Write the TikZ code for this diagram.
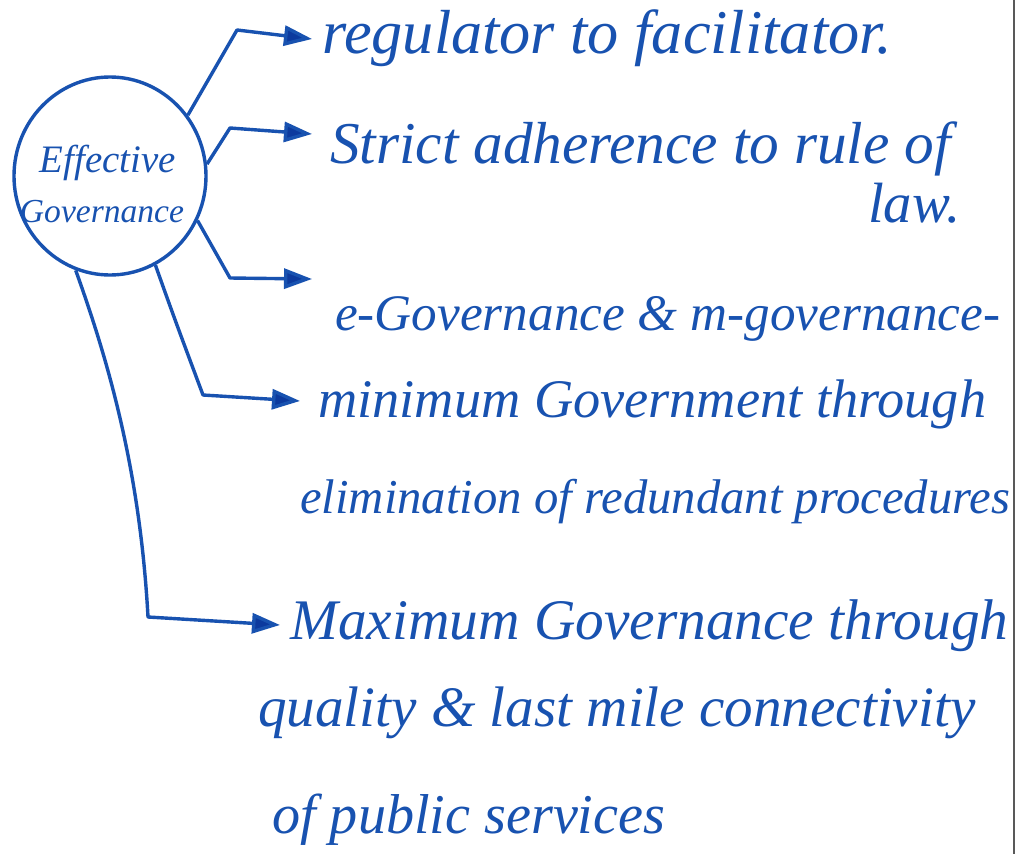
\documentclass[tikz,border=0pt]{standalone}
\usepackage{fontspec}
\setmainfont{Liberation Serif}
\usepackage{graphicx}
\usetikzlibrary{arrows.meta,shapes.geometric}
\definecolor{ink}{RGB}{24,82,176}
\definecolor{inkdark}{RGB}{12,58,158}
\newcommand{\fitw}[2]{\resizebox{#1pt}{!}{\itshape #2}}
\tikzset{
  conn/.style={draw=ink, line width=3.4pt, line join=round, -{Triangle[length=28pt,width=20pt,fill=inkdark]}},
  hand/.style={text=ink, inner sep=0pt, anchor=base west},
  hub/.style={ellipse, draw=ink, line width=3.4pt, minimum width=192pt, minimum height=198pt, inner sep=0pt, align=center}
}
\begin{document}
\begin{tikzpicture}[x=1pt,y=-1pt]
\useasboundingbox (0,0) rectangle (1019,854);
\fill[white] (0,0) rectangle (1019,854);
\draw[black!65, line width=1.5pt] (1014,0) -- (1014,854);

\node[hub] (eg) at (110,176) {};
\node[hand, anchor=base] (eff) at (108,172) {\fitw{136}{Effective}};
\node[hand, anchor=base] (gov) at (102,222) {\fitw{164}{Governance}};

\coordinate (c1) at (237,30);  \coordinate (t1) at (312,39);
\coordinate (c2) at (230,128); \coordinate (t2) at (312,134);
\coordinate (c3) at (230,278); \coordinate (t3) at (312,279);
\coordinate (c4) at (203,395); \coordinate (t4) at (300,401);
\coordinate (c5) at (148,617); \coordinate (t5) at (280,625);

\draw[conn] (eg.38) -- (c1) -- (t1);
\draw[conn] (eg.7) -- (c2) -- (t2);
\draw[conn] (eg.-27) -- (c3) -- (t3);
\draw[conn] (eg.-63) .. controls (175,320) .. (c4) -- (t4);
\draw[conn] (eg.-110) .. controls (108,360) and (140,470) .. (c5) -- (t5);

\node[hand] (l1) at (322,53) {\fitw{570}{regulator to facilitator.}};
\node[hand] (l2a) at (330,163) {\fitw{620}{Strict adherence to rule of}};
\node[hand] (l2b) at (868,222) {\fitw{92}{law.}};
\node[hand] (l3) at (335,330) {\fitw{665}{e-Governance \& m-governance-}};
\node[hand] (l4a) at (318,417) {\fitw{668}{minimum Government through}};
\node[hand] (l4b) at (300,513) {\fitw{710}{elimination of redundant procedures}};
\node[hand] (l5a) at (290,639) {\fitw{718}{Maximum Governance through}};
\node[hand] (l5b) at (258,726) {\fitw{717}{quality \& last mile connectivity}};
\node[hand] (l5c) at (272,833) {\fitw{393}{of public services}};
\end{tikzpicture}
\end{document}
